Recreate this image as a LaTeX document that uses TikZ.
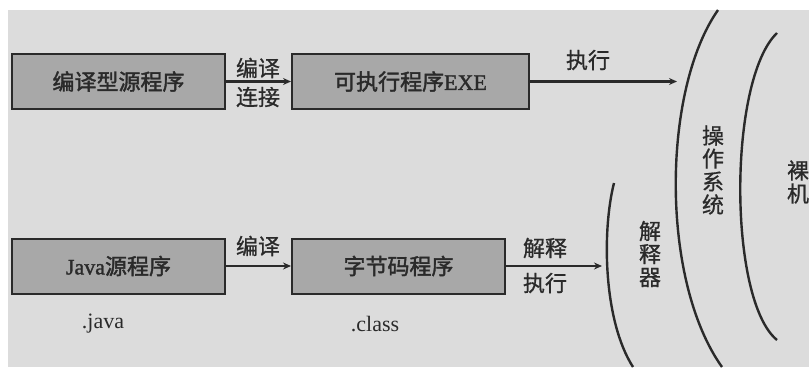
\documentclass[tikz,border=0pt]{standalone}
\usepackage{fontspec}
\setmainfont{Liberation Serif}
\newfontfamily\cjk{Noto Sans CJK SC}[FakeBold=0.8]
\newfontfamily\cjkb{Noto Sans CJK SC}[FakeBold=1.8]
\newfontfamily\latb{Liberation Serif}[FakeBold=1.5]
\usetikzlibrary{arrows.meta}
\definecolor{bgc}{HTML}{DCDCDC}
\definecolor{boxc}{HTML}{A8A8A8}
\definecolor{ink}{HTML}{2A2A2A}
\begin{document}
\begin{tikzpicture}[x=1pt,y=-1pt,
  prog/.style={draw=ink,line width=2pt,fill=boxc,minimum height=55pt,inner sep=0pt,
    text=ink,font=\cjkb\fontsize{22}{24}\selectfont},
  arr/.style={draw=ink,line width=2.4pt,-{Stealth[length=8pt,width=7pt]}},
  lab/.style={text=ink,font=\cjk\fontsize{22}{24}\selectfont,inner sep=0pt},
  vlab/.style={text=ink,font=\cjk\fontsize{22}{23}\selectfont,inner sep=0pt,align=center},
  ext/.style={text=ink,font=\fontsize{22}{24}\selectfont,inner sep=0pt},
  arc/.style={draw=ink,line width=2.4pt}]
\useasboundingbox (0,0) rectangle (809,367);
\fill[white] (0,0) rectangle (809,367);
\fill[bgc] (8,10) rectangle (809,367);
% boxes
\node[prog,minimum width=213pt] (src) at (118.5,81.5) {编译型源程序};
\node[prog,minimum width=237pt] (exe) at (410.5,81.5) {可执行程序{\latb EXE}};
\node[prog,minimum width=213pt] (java) at (118.5,266) {{\latb Java}源程序};
\node[prog,minimum width=213pt] (cls) at (398.5,266) {字节码程序};
% arrow end points
\coordinate (osin) at (677,81.5);
\coordinate (itin) at (602,266);
\draw[arr] (src.east) -- (exe.west);
\draw[arr] (exe.east) -- (osin);
\draw[arr] (java.east) -- (cls.west);
\draw[arr] (cls.east) -- (itin);
% labels
\node[lab] (l1) at (258,68) {编译};
\node[lab] (l2) at (258,97) {连接};
\node[lab] (l3) at (588,60) {执行};
\node[lab] (l4) at (258,246) {编译};
\node[lab] (l5) at (545,248) {解释};
\node[lab] (l6) at (545,283) {执行};
\node[ext] (ej) at (103,324) {.java};
\node[ext] (ec) at (375,324) {.class};
% arcs
\coordinate (a1s) at (614,183); \coordinate (a1e) at (633,367);
\coordinate (a2s) at (718,10);  \coordinate (a2e) at (722,367);
\coordinate (a3s) at (777,33);  \coordinate (a3e) at (777,340);
\draw[arc] (a1s) .. controls (602,230) and (603,320) .. (a1e);
\draw[arc] (a2s) .. controls (662,90) and (660,280) .. (a2e);
\draw[arc] (a3s) .. controls (728,80) and (728,300) .. (a3e);
\node[vlab] (it) at (650,254) {解\\释\\器};
\node[vlab] (os) at (713,170) {操\\作\\系\\统};
\node[vlab] (hw) at (798,182) {裸\\机};
\end{tikzpicture}
\end{document}
